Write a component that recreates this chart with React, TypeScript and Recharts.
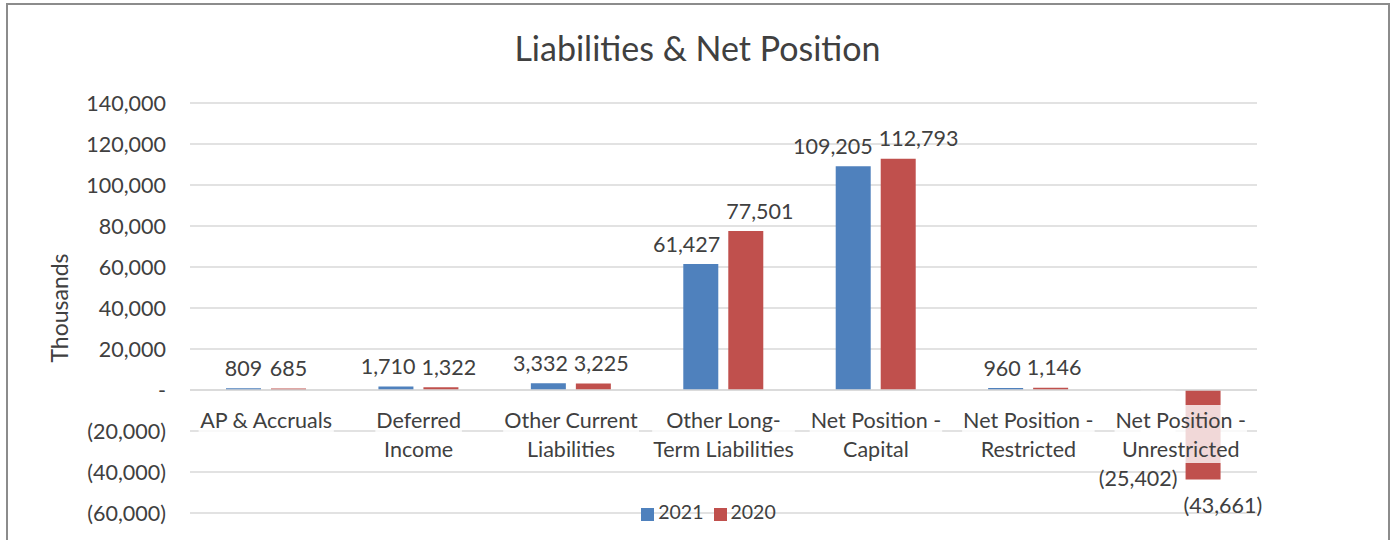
import React from 'react';
import {
  BarChart,
  Bar,
  XAxis,
  YAxis,
  CartesianGrid,
  Legend,
  LabelList,
  ReferenceLine,
  Cell,
} from 'recharts';

// category names, '\n' marks where the label wraps
const categories = [
  'AP & Accruals',
  'Deferred\nIncome',
  'Other Current\nLiabilities',
  'Other Long-\nTerm Liabilities',
  'Net Position -\nCapital',
  'Net Position -\nRestricted',
  'Net Position -\nUnrestricted',
];
const values2021 = [809, 1710, 3332, 61427, 109205, 960, -25402];
const values2020 = [685, 1322, 3225, 77501, 112793, 1146, -43661];
const yTicks = [140000, 120000, 100000, 80000, 60000, 40000, 20000, 0, -20000, -40000, -60000];

const BLUE = '#4F81BD';
const RED = '#C0504D';
const TEXT = '#404040';
const GRID = '#d9d9d9';
const FONT = 'Lato, "Open Sans", sans-serif';
const FS = 21.5;
const BAR_GAP = 10;

const data = categories.map((name, i) => ({
  name,
  y2021: values2021[i],
  y2020: values2020[i],
}));

// Excel accounting style
const fmt = (v: number) =>
  v === 0 ? '-' : v < 0 ? `(${Math.abs(v).toLocaleString('en-US')})` : v.toLocaleString('en-US');

const ctx = typeof document !== 'undefined' ? document.createElement('canvas').getContext('2d') : null;
const textWidth = (s: string, size = FS) => {
  if (!ctx) return s.length * size * 0.52;
  ctx.font = `${size}px Lato`;
  return ctx.measureText(s).width;
};

// data labels, pushed apart sideways when the pair would collide
const makeLabel = (series: 0 | 1) => (props: any) => {
  const { x, y, width, height, index, value } = props;
  const other = series === 0 ? values2020[index] : values2021[index];
  const need = (textWidth(fmt(value)) + textWidth(fmt(other))) / 2 + 6 - (width + BAR_GAP);
  const shift = need > 0 ? need / 2 : 0;
  const cx = x + width / 2 + (series === 0 ? -shift : shift);
  const top = Math.min(y, y + height);
  const bottom = Math.max(y, y + height);
  // negative labels go below the bar end, but never into the category text
  const cy = value >= 0 ? top - 20 : Math.max(bottom + 26, top + 88);
  return (
    <text x={cx} y={cy} dy="0.35em" textAnchor="middle" fill={TEXT} fontSize={FS} fontFamily={FONT}>
      {fmt(value)}
    </text>
  );
};

// category labels sit just under the zero line, on a faint white box
const CategoryLabels = (props: any) => {
  const { x, y, width } = props.viewBox;
  const band = width / categories.length;
  return (
    <g>
      {categories.map((c, i) => {
        const lines = c.split('\n');
        const cx = x + band * (i + 0.5);
        const w = Math.max(...lines.map((l) => textWidth(l)));
        return (
          <g key={c}>
            <rect
              x={cx - w / 2 - 1}
              y={y + 15}
              width={w + 2}
              height={lines.length * 29}
              fill="#fff"
              fillOpacity={0.78}
            />
            {lines.map((l, j) => (
              <text
                key={l}
                x={cx}
                y={y + 30 + j * 29}
                dy="0.35em"
                textAnchor="middle"
                fill={TEXT}
                fontSize={FS}
                fontFamily={FONT}
              >
                {l}
              </text>
            ))}
          </g>
        );
      })}
    </g>
  );
};

const AxisTitle = (props: any) => {
  const { x, y, height } = props.viewBox;
  const cx = x + 60;
  const cy = y + height / 2;
  return (
    <text
      x={cx}
      y={cy}
      dy="0.35em"
      textAnchor="middle"
      transform={`rotate(-90, ${cx}, ${cy})`}
      fill={TEXT}
      fontSize={23}
      fontFamily={FONT}
    >
      Thousands
    </text>
  );
};

export default function App() {
  return (
    <div style={{ position: 'absolute', left: 0, top: 0, width: 1395, height: 540, background: '#fff', overflow: 'hidden' }}>
      <div
        style={{
          position: 'absolute',
          left: 6,
          top: 3,
          width: 1380,
          height: 560,
          border: '2px solid #8c8c8c',
        }}
      />
      <div
        style={{
          position: 'absolute',
          left: 0,
          top: 28,
          width: 1395,
          textAlign: 'center',
          fontFamily: FONT,
          fontSize: 34,
          color: TEXT,
          lineHeight: '40px',
        }}
      >
        Liabilities &amp; Net Position
      </div>
      <div style={{ position: 'absolute', left: 0, top: 0 }}>
        <BarChart
          width={1395}
          height={540}
          data={data}
          margin={{ top: 103, right: 138, left: 0, bottom: 27 }}
          barGap={BAR_GAP}
        >
          <CartesianGrid vertical={false} stroke={GRID} strokeWidth={1.5} />
          <XAxis dataKey="name" hide />
          <YAxis
            type="number"
            domain={[-60000, 140000]}
            ticks={yTicks}
            interval={0}
            width={190}
            axisLine={false}
            tickLine={false}
            tickSize={0}
            tickMargin={24}
            tickFormatter={fmt}
            tick={{ fill: TEXT, fontSize: FS, fontFamily: FONT }}
            label={<AxisTitle />}
          />
          <Bar dataKey="y2021" name="2021" fill={BLUE} barSize={35} isAnimationActive={false}>
            {values2021.map((v, i) => (
              <Cell key={i} fill={v < 0 ? '#ffffff' : BLUE} />
            ))}
            <LabelList dataKey="y2021" content={makeLabel(0)} />
          </Bar>
          <Bar dataKey="y2020" name="2020" fill={RED} barSize={35} isAnimationActive={false}>
            <LabelList dataKey="y2020" content={makeLabel(1)} />
          </Bar>
          <ReferenceLine y={0} stroke={GRID} strokeWidth={1.5} label={<CategoryLabels />} />
          <Legend
            verticalAlign="middle"
            align="center"
            iconType="square"
            iconSize={13}
            itemSorter={() => 0}
            payload={[
              { value: '2021', type: 'square', color: BLUE, id: 'y2021' },
              { value: '2020', type: 'square', color: RED, id: 'y2020' },
            ]}
            wrapperStyle={{ top: 500, left: 16, width: 1395, fontFamily: FONT, fontSize: 19.5 }}
            formatter={(v: string) => <span style={{ color: TEXT }}>{v}</span>}
          />
        </BarChart>
      </div>
    </div>
  );
}
